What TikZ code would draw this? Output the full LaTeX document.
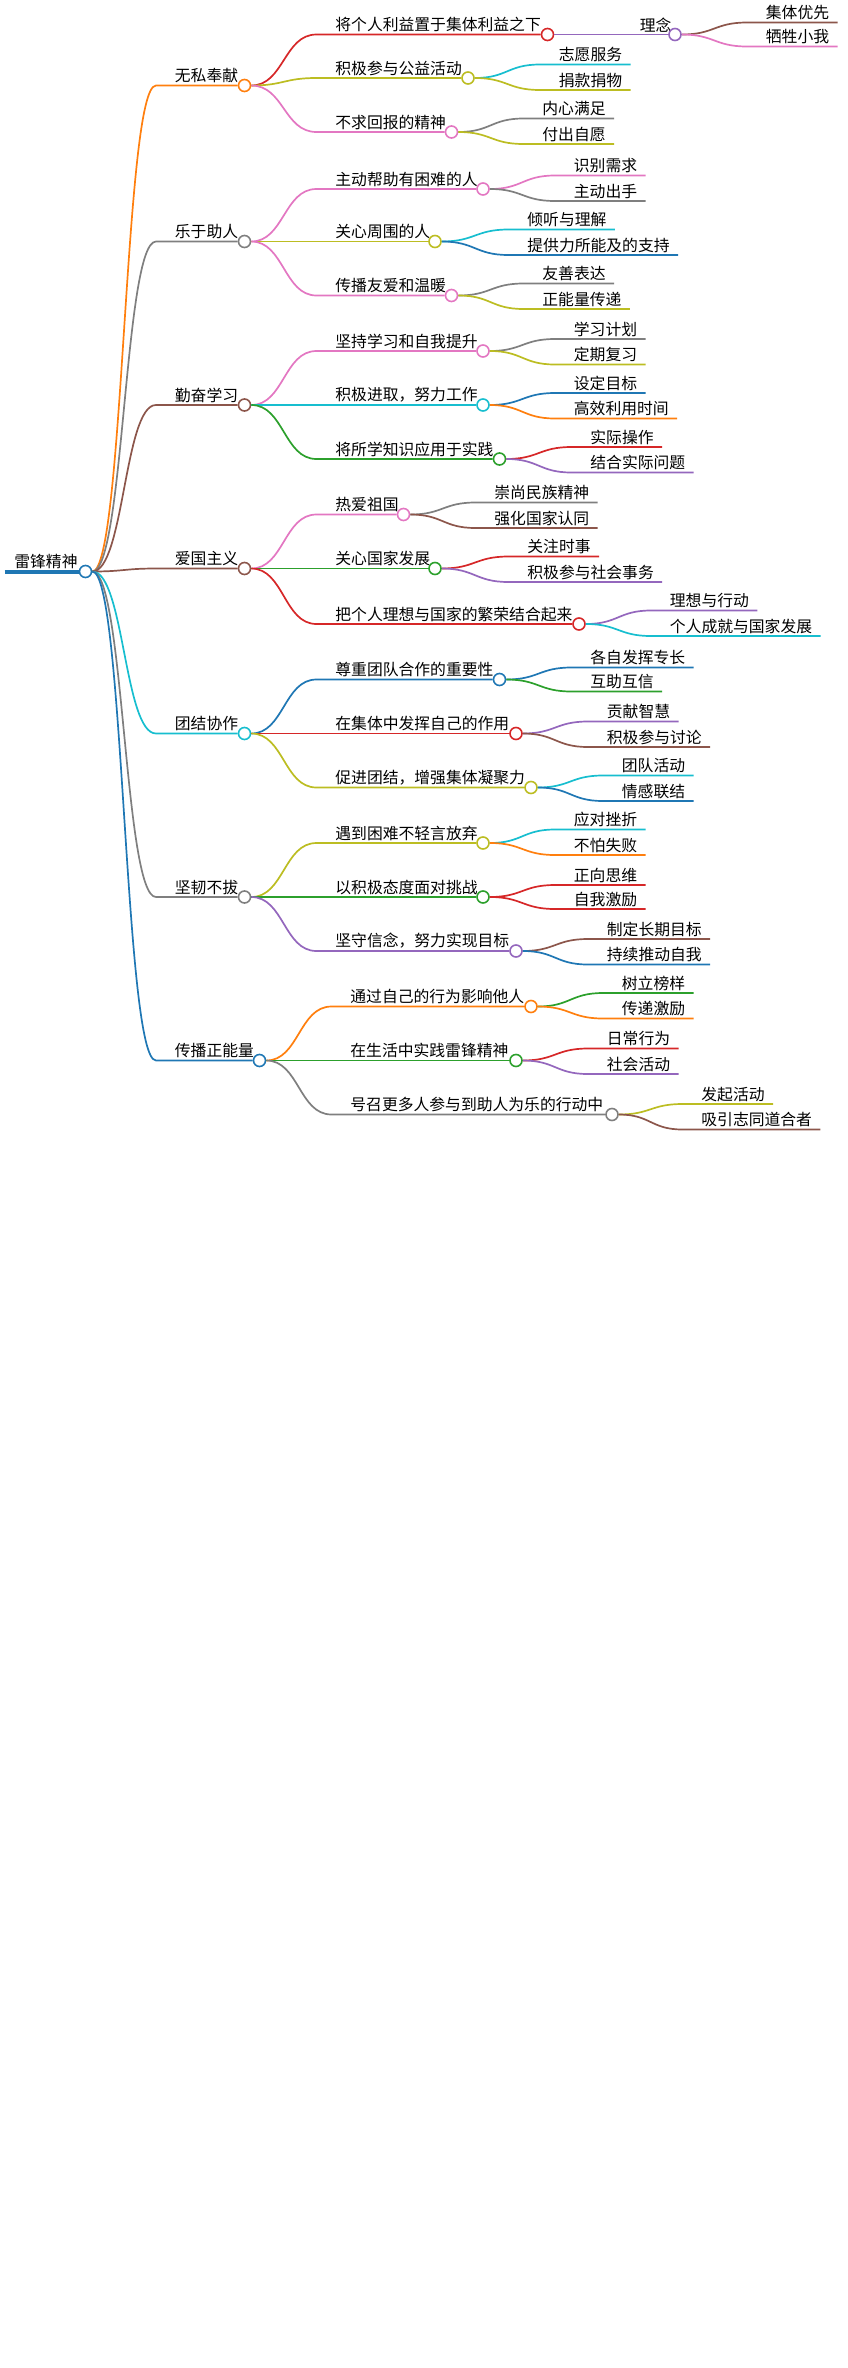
\documentclass[tikz,border=0pt]{standalone}
\usepackage{fontspec}
\newfontfamily\cjk{Noto Sans CJK SC}
\usetikzlibrary{calc}
\definecolor{cblue}{HTML}{1F77B4}
\definecolor{corange}{HTML}{FF7F0E}
\definecolor{cgreen}{HTML}{2CA02C}
\definecolor{cred}{HTML}{D62728}
\definecolor{cpurple}{HTML}{9467BD}
\definecolor{cbrown}{HTML}{8C564B}
\definecolor{cpink}{HTML}{E377C2}
\definecolor{cgray}{HTML}{7F7F7F}
\definecolor{colive}{HTML}{BCBD22}
\definecolor{ccyan}{HTML}{17BECF}
\tikzset{
  dot/.style={circle,draw,fill=white,inner sep=0pt,minimum size=6pt,line width=0.8pt},
  lbl/.style={anchor=south west,inner sep=1pt,font=\cjk\fontsize{7.9}{8}\selectfont},
  edge/.style={line width=0.85pt}
}
% leaf: name, parent, colour, text x, y, text
\newcommand{\leafnode}[6]{%
  \node[lbl] (#1) at (#4,#5) {#6};
  \coordinate (#1s) at ($(#4,#5)+(-11,0)$);
  \coordinate (#1m) at ($(#2)!.5!(#1s)$);
  \draw[edge,#3] (#2) .. controls (#2 -| #1m) and (#1s -| #1m) .. (#1s) -- ($(#1.south east)+(4,0)$);
}
% inner node: name, parent, colour, text x, y, text, circle x
\newcommand{\midnode}[7]{%
  \node[lbl] (#1) at (#4,#5) {#6};
  \coordinate (#1s) at ($(#4,#5)+(-11,0)$);
  \coordinate (#1m) at ($(#2)!.5!(#1s)$);
  \node[dot,draw=#3] (#1c) at (#7,#5) {};
  \draw[edge,#3] (#2) .. controls (#2 -| #1m) and (#1s -| #1m) .. (#1s) -- (#1c.west);
}
\begin{document}
\begin{tikzpicture}[x=0.75pt,y=-0.75pt]
\useasboundingbox (0,0) rectangle (565.33,1578.67);

\node[lbl] (root) at (8,381) {雷锋精神};
\node[dot,draw=cblue] (rootc) at (57,381) {};
\draw[cblue,line width=2pt] (3,381) -- (rootc.west);

% 无私奉献
\midnode{wusi}{rootc.east}{corange}{115}{57}{无私奉献}{163}
\midnode{wusiA}{wusic.east}{cred}{222}{23}{将个人利益置于集体利益之下}{365}
\midnode{linian}{wusiAc.east}{cpurple}{425}{23}{理念}{450}
\leafnode{linianA}{linianc.east}{cbrown}{509}{15}{集体优先}
\leafnode{linianB}{linianc.east}{cpink}{509}{31}{牺牲小我}
\midnode{wusiB}{wusic.east}{colive}{222}{52}{积极参与公益活动}{312}
\leafnode{wusiBa}{wusiBc.east}{ccyan}{371}{43}{志愿服务}
\leafnode{wusiBb}{wusiBc.east}{colive}{371}{60}{捐款捐物}
\midnode{wusiC}{wusic.east}{cpink}{222}{88}{不求回报的精神}{301}
\leafnode{wusiCa}{wusiCc.east}{cgray}{360}{79}{内心满足}
\leafnode{wusiCb}{wusiCc.east}{colive}{360}{96}{付出自愿}

% 乐于助人
\midnode{leyu}{rootc.east}{cgray}{115}{161}{乐于助人}{163}
\midnode{leyuA}{leyuc.east}{cpink}{222}{126}{主动帮助有困难的人}{322}
\leafnode{leyuAa}{leyuAc.east}{cpink}{381}{117}{识别需求}
\leafnode{leyuAb}{leyuAc.east}{cgray}{381}{134}{主动出手}
\midnode{leyuB}{leyuc.east}{colive}{222}{161}{关心周围的人}{290}
\leafnode{leyuBa}{leyuBc.east}{ccyan}{350}{153}{倾听与理解}
\leafnode{leyuBb}{leyuBc.east}{cblue}{350}{170}{提供力所能及的支持}
\midnode{leyuC}{leyuc.east}{cpink}{222}{197}{传播友爱和温暖}{301}
\leafnode{leyuCa}{leyuCc.east}{cgray}{360}{189}{友善表达}
\leafnode{leyuCb}{leyuCc.east}{colive}{360}{206}{正能量传递}

% 勤奋学习
\midnode{qinfen}{rootc.east}{cbrown}{115}{270}{勤奋学习}{163}
\midnode{qinfenA}{qinfenc.east}{cpink}{222}{234}{坚持学习和自我提升}{322}
\leafnode{qinfenAa}{qinfenAc.east}{cgray}{381}{226}{学习计划}
\leafnode{qinfenAb}{qinfenAc.east}{colive}{381}{243}{定期复习}
\midnode{qinfenB}{qinfenc.east}{ccyan}{222}{270}{积极进取，努力工作}{322}
\leafnode{qinfenBa}{qinfenBc.east}{cblue}{381}{262}{设定目标}
\leafnode{qinfenBb}{qinfenBc.east}{corange}{381}{279}{高效利用时间}
\midnode{qinfenC}{qinfenc.east}{cgreen}{222}{306}{将所学知识应用于实践}{333}
\leafnode{qinfenCa}{qinfenCc.east}{cred}{392}{298}{实际操作}
\leafnode{qinfenCb}{qinfenCc.east}{cpurple}{392}{315}{结合实际问题}

% 爱国主义
\midnode{aiguo}{rootc.east}{cbrown}{115}{379}{爱国主义}{163}
\midnode{aiguoA}{aiguoc.east}{cpink}{222}{343}{热爱祖国}{269}
\leafnode{aiguoAa}{aiguoAc.east}{cgray}{328}{335}{崇尚民族精神}
\leafnode{aiguoAb}{aiguoAc.east}{cbrown}{328}{352}{强化国家认同}
\midnode{aiguoB}{aiguoc.east}{cgreen}{222}{379}{关心国家发展}{290}
\leafnode{aiguoBa}{aiguoBc.east}{cred}{350}{371}{关注时事}
\leafnode{aiguoBb}{aiguoBc.east}{cpurple}{350}{388}{积极参与社会事务}
\midnode{aiguoC}{aiguoc.east}{cred}{222}{416}{把个人理想与国家的繁荣结合起来}{386}
\leafnode{aiguoCa}{aiguoCc.east}{cpurple}{445}{407}{理想与行动}
\leafnode{aiguoCb}{aiguoCc.east}{ccyan}{445}{424}{个人成就与国家发展}

% 团结协作
\midnode{tuanjie}{rootc.east}{ccyan}{115}{489}{团结协作}{163}
\midnode{tuanjieA}{tuanjiec.east}{cblue}{222}{453}{尊重团队合作的重要性}{333}
\leafnode{tuanjieAa}{tuanjieAc.east}{cblue}{392}{445}{各自发挥专长}
\leafnode{tuanjieAb}{tuanjieAc.east}{cgreen}{392}{461}{互助互信}
\midnode{tuanjieB}{tuanjiec.east}{cred}{222}{489}{在集体中发挥自己的作用}{344}
\leafnode{tuanjieBa}{tuanjieBc.east}{cpurple}{403}{481}{贡献智慧}
\leafnode{tuanjieBb}{tuanjieBc.east}{cbrown}{403}{498}{积极参与讨论}
\midnode{tuanjieC}{tuanjiec.east}{colive}{222}{525}{促进团结，增强集体凝聚力}{354}
\leafnode{tuanjieCa}{tuanjieCc.east}{ccyan}{413}{517}{团队活动}
\leafnode{tuanjieCb}{tuanjieCc.east}{cblue}{413}{534}{情感联结}

% 坚韧不拔
\midnode{jianren}{rootc.east}{cgray}{115}{598}{坚韧不拔}{163}
\midnode{jianrenA}{jianrenc.east}{colive}{222}{562}{遇到困难不轻言放弃}{322}
\leafnode{jianrenAa}{jianrenAc.east}{ccyan}{381}{553}{应对挫折}
\leafnode{jianrenAb}{jianrenAc.east}{corange}{381}{570}{不怕失败}
\midnode{jianrenB}{jianrenc.east}{cgreen}{222}{598}{以积极态度面对挑战}{322}
\leafnode{jianrenBa}{jianrenBc.east}{cred}{381}{590}{正向思维}
\leafnode{jianrenBb}{jianrenBc.east}{cred}{381}{606}{自我激励}
\midnode{jianrenC}{jianrenc.east}{cpurple}{222}{634}{坚守信念，努力实现目标}{344}
\leafnode{jianrenCa}{jianrenCc.east}{cbrown}{403}{626}{制定长期目标}
\leafnode{jianrenCb}{jianrenCc.east}{cblue}{403}{643}{持续推动自我}

% 传播正能量
\midnode{chuanbo}{rootc.east}{cblue}{115}{707}{传播正能量}{173}
\midnode{chuanboA}{chuanboc.east}{corange}{232}{671}{通过自己的行为影响他人}{354}
\leafnode{chuanboAa}{chuanboAc.east}{cgreen}{413}{662}{树立榜样}
\leafnode{chuanboAb}{chuanboAc.east}{corange}{413}{679}{传递激励}
\midnode{chuanboB}{chuanboc.east}{cgreen}{232}{707}{在生活中实践雷锋精神}{344}
\leafnode{chuanboBa}{chuanboBc.east}{cred}{403}{699}{日常行为}
\leafnode{chuanboBb}{chuanboBc.east}{cpurple}{403}{716}{社会活动}
\midnode{chuanboC}{chuanboc.east}{cgray}{232}{743}{号召更多人参与到助人为乐的行动中}{408}
\leafnode{chuanboCa}{chuanboCc.east}{colive}{466}{736}{发起活动}
\leafnode{chuanboCb}{chuanboCc.east}{cbrown}{466}{753}{吸引志同道合者}
\end{tikzpicture}
\end{document}
